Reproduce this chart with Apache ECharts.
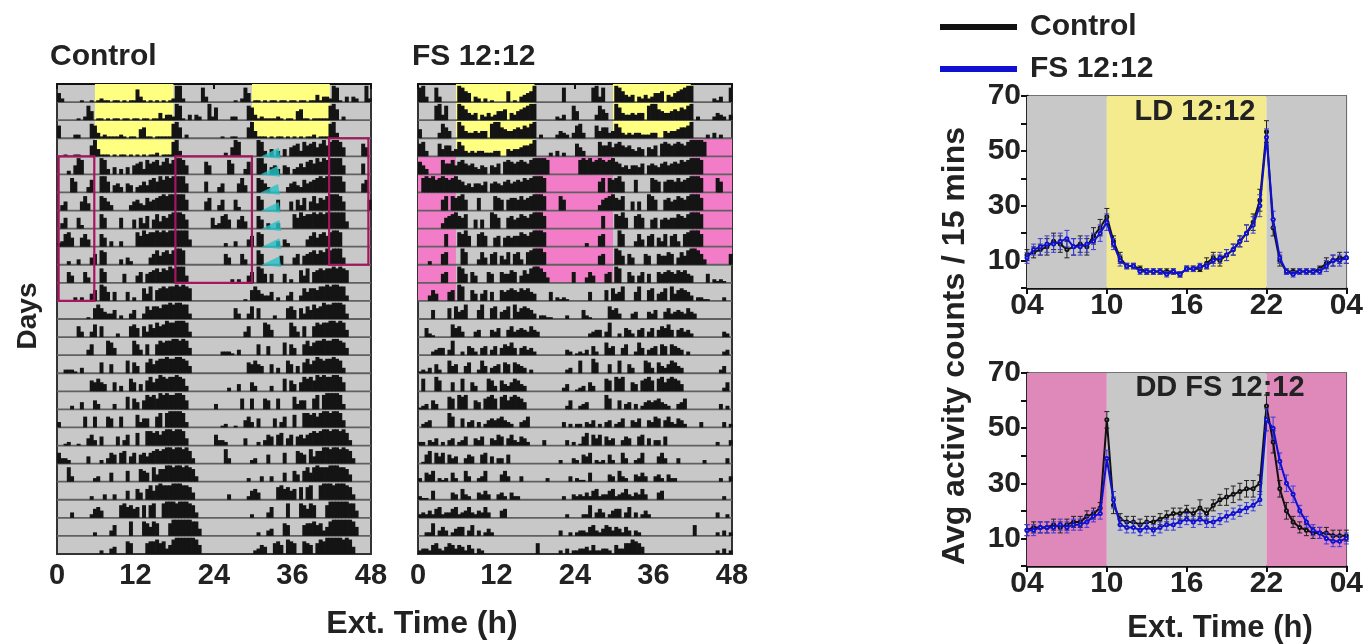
<!DOCTYPE html>
<html><head><meta charset="utf-8">
<script src="https://cdn.jsdelivr.net/npm/echarts@6/dist/echarts.min.js"></script>
<style>html,body{margin:0;padding:0;background:#fff}#c{width:1366px;height:644px}</style>
</head><body><div id="c"></div>
<script>
// ---------- Actogram data: one string per day, 48 half-hour bins, activity level 0-9 ----------
const ctrlDays = [
"520000 010010 121101 101011 731010 101012 992000 008300",
"000000 102850 110101 101101 101101 141332 981030 320092",
"700002 200087 312111 121011 056110 111118 960200 000000",
"001001 100069 411101 011010 101011 201118 930000 000000",
"000205 980000 098304 030405 673867 857968 998500 000750",
"000086 000370 099604 530540 346478 697989 999500 000600",
"035000 058400 087530 000035 643756 789899 999600 000570",
"036000 620000 086000 060005 063705 847689 998500 000006",
"237850 057400 075030 030000 869788 989899 999940 000000",
"000200 300046 087000 030420 000046 857868 998000 000000",
"000640 006300 086000 005000 460567 868798 999400 000000",
"000002 020046 098505 000502 007480 678788 989870 000000",
"000000 000106 864335 020035 003757 768898 998830 000000",
"000000 630037 060000 200067 506375 867988 999830 000000",
"000000 000360 000874 000008 630600 687889 989840 000000",
"002221 030000 060050 000706 400685 788988 998740 000000",
"000000 000065 754005 030075 040685 798788 987300 000000",
"000020 040005 300003 000706 405878 698988 998500 000000",
"300000 006006 000650 060000 735500 680899 998300 000000",
"001200 100463 050000 503600 700887 868998 998400 000000",
"633200 000400 020365 067046 056467 878998 998973 000000",
"000830 000002 300050 000600 076508 477998 998987 300000",
"000000 000020 003003 000500 640685 898889 998874 000000",
"000030 000025 640000 078675 607078 008999 899987 300000",
"000000 000002 000036 000080 008758 700079 999998 840000",
"000000 000000 020034 000760 000677 867358 999999 850000",
"000000 000000 235400 675087 600765 068799 999898 400000"
];
const fsDays = [
"893008 300000 986503 202010 000601 034569 000000 008000",
"000008 938000 986434 032423 556043 567899 000000 213008",
"500000 386400 974334 344089 965445 657689 020000 243203",
"783000 746634 863232 332223 300434 456679 000020 302000",
"753000 086685 786564 354054 607876 787689 999800 000000",
"089897 898789 764535 546056 546756 768789 998000 000000",
"000000 068087 896000 700008 760677 686789 998000 086000",
"000000 036789 768005 050098 600675 687689 997000 000000",
"000000 007000 879600 786005 605656 687689 998000 000000",
"000200 067000 097000 374067 053706 730789 997000 000000",
"000000 056000 985064 000650 065576 047589 986300 000006",
"000364 000560 980064 046050 065676 576754 000050 212100",
"000050 000607 458000 580067 045708 467653 022110 000200",
"005210 000075 630003 400043 500463 454364 300000 000000",
"000023 440380 020542 045035 046574 045342 000000 000320",
"121305 200745 004600 274034 506506 543020 000000 000230",
"070008 600050 070053 000763 064357 643000 000000 002400",
"123053 000760 878005 406786 078578 764000 000000 000250",
"023400 000860 050340 302454 564320 034600 000000 003020",
"220324 020340 235004 350043 650463 254200 003000 000302",
"015706 460534 003540 056040 330500 000000 000000 020003",
"205460 212052 006300 236000 046300 030000 000200 000030",
"211050 000043 063200 435300 342042 200000 000000 002003",
"232425 623356 234632 436300 045000 000000 000000 000200",
"002270 353024 550360 302420 000000 000000 000000 030020",
"233256 324653 542530 320000 000000 000000 600000 020302",
"233425 223320 533668 764000 000000 000000 000000 020302"
];
// light / feeding phases on the actograms: [rowStart, rowEnd, hourStart, hourEnd]
const ctrlYellow = [[0,4,5.8,17.8],[0,3,29.8,41.7]];
const fsYellow   = [[0,4,5.8,17.8],[0,3,29.8,41.7]];
const fsPink     = [[3,10,41.7,48],[4,11,17.8,29.8],[4,12,0,5.8]];
const ctrlBoxes  = [[3,10,41.6,47.6],[4,11,18.1,29.8],[4,12,0.25,5.7]];
const arrowX = [32.6,32.5,32.5,32.6,32.7,32.7,32.7];
const arrowY = [3.92,4.92,5.92,6.92,7.92,8.92,9.92];

// ---------- Average activity profiles ----------
const hours = [4,4.5,5,5.5,6,6.5,7,7.5,8,8.5,9,9.5,10,10.5,11,11.5,12,12.5,13,13.5,14,14.5,15,15.5,16,16.5,17,17.5,18,18.5,19,19.5,20,20.5,21,21.5,22,22.5,23,23.5,24,24.5,25,25.5,26,26.5,27,27.5,28];
const ldControl = [12,13,14,15,17,16,14,15,16,15,19,22,26,17,11,8,8,7,6,6,6,6,6,5,7,7,7,9,11,10,12,14,17,20,24,32,57,22,10,6,6,6,6,6,7,9,10,11,11];
const ldFS      = [11,14,15,16,16,17,18,15,15,16,17,20,24,16,10,8,8,6,6,6,6,5,6,5,7,7,8,8,10,11,12,14,17,20,23,30,55,25,11,6,5,6,6,6,6,8,10,10,11];
const ldControlErr = [2,2,2,3,3,3,3,3,3,3,3,3,3,2,2,1,1,1,1,1,1,1,1,1,1,1,1,2,2,2,2,2,2,3,3,4,4,3,2,1,1,1,1,1,1,2,2,2,2];
const ldFSErr      = [2,2,3,3,3,3,3,3,3,3,3,3,3,2,2,1,1,1,1,1,1,1,1,1,1,1,1,1,2,2,2,2,2,3,3,4,3,3,2,1,1,1,1,1,1,2,2,2,2];
const ddControl = [13,14,14,14,15,14,15,16,16,18,19,21,53,22,17,16,16,15,16,16,17,18,19,19,20,19,21,19,22,24,25,26,27,28,28,30,58,45,28,20,16,14,13,12,12,12,11,11,11];
const ddFS      = [13,13,14,14,14,15,14,15,15,16,18,19,39,24,15,14,14,13,14,13,14,15,15,16,17,16,17,16,16,17,18,19,20,21,22,24,53,50,38,30,26,20,16,13,12,10,9,9,10];
const ddControlErr = [2,2,2,2,2,2,2,2,2,2,2,2,3,3,2,2,2,2,2,2,2,2,2,2,2,2,3,2,2,2,3,3,3,3,3,3,4,4,3,3,2,2,2,2,2,2,2,2,2];
const ddFSErr      = [2,2,2,2,2,2,2,2,2,2,2,2,3,3,2,2,2,2,2,2,2,2,2,2,2,2,2,2,2,2,2,2,2,2,2,2,4,4,3,3,3,2,2,2,2,2,2,2,2];
const ldPhases = [[4,10,'gray'],[10,22,'yellow'],[22,28,'gray']];
const ddPhases = [[4,10,'pink'],[10,22,'gray'],[22,28,'pink']];

// ---------- styling ----------
const FONT = "'Liberation Sans', Arial, sans-serif";
const TXT = '#222';
const BIN = 0.5;
const NROWS = ctrlDays.length - 1;
const BG = {gray:'#c8c8c8', yellow:'#f4ea8e', pink:'#df89bb'};

function dayBars(days){
  const out = [];
  for (let r = 0; r < days.length - 1; r++){
    for (let half = 0; half < 2; half++){
      const s = days[r + half].replace(/ /g, '');
      for (let b = 0; b < s.length; b++){
        const lv = +s[b];
        if (lv > 0) out.push([half * 24 + b * BIN, r, lv]);
      }
    }
  }
  return out;
}
function rectsFrom(list, color){ return list.map(d => [d[2], d[3], d[0], d[1], color]); }

function bgItem(params, api){
  const x0 = api.value(0), x1 = api.value(1), r0 = api.value(2), r1 = api.value(3);
  const p0 = api.coord([x0, r0]), p1 = api.coord([x1, r1]);
  return {type:'rect', shape:{x:Math.min(p0[0],p1[0]), y:Math.min(p0[1],p1[1]), width:Math.abs(p1[0]-p0[0]), height:Math.abs(p1[1]-p0[1])},
          style:{fill: api.value(4)}};
}
function boxItem(params, api){
  const p0 = api.coord([api.value(0), api.value(2)]), p1 = api.coord([api.value(1), api.value(3)]);
  return {type:'rect', shape:{x:p0[0], y:p0[1], width:p1[0]-p0[0], height:p1[1]-p0[1]},
          style:{fill:'none', stroke:'#a8145f', lineWidth:2.2}};
}
function baseItem(params, api){
  const r = api.value(0);
  const a = api.coord([0, r]), b = api.coord([48, r]);
  return {type:'line', shape:{x1:a[0], y1:a[1], x2:b[0], y2:b[1]}, style:{stroke:'#606060', lineWidth:1.8}};
}
function barItem(params, api){
  const x = api.value(0), r = api.value(1), lv = api.value(2);
  const base = api.coord([x, r + 1]);
  const top = api.coord([x + BIN, r + 1 - lv / 9 * 0.9]);
  return {type:'rect', shape:{x:base[0], y:top[1], width:Math.max(1, top[0]-base[0]+0.7), height:base[1]-top[1]},
          style:{fill:'#141414'}};
}
function profBg(params, api){
  const p0 = api.coord([api.value(0), 70]), p1 = api.coord([api.value(1), 0]);
  return {type:'rect', shape:{x:p0[0], y:p0[1], width:p1[0]-p0[0], height:p1[1]-p0[1]}, style:{fill: BG[api.value(2)]}};
}
function errItem(color){
  return function(params, api){
    const x = api.value(0), v = api.value(1), e = api.value(2);
    const lo = api.coord([x, v - e]), hi = api.coord([x, v + e]);
    const cw = 2.5;
    const st = {stroke:color, lineWidth:1};
    return {type:'group', children:[
      {type:'line', shape:{x1:lo[0], y1:lo[1], x2:hi[0], y2:hi[1]}, style:st},
      {type:'line', shape:{x1:hi[0]-cw, y1:hi[1], x2:hi[0]+cw, y2:hi[1]}, style:st},
      {type:'line', shape:{x1:lo[0]-cw, y1:lo[1], x2:lo[0]+cw, y2:lo[1]}, style:st}
    ]};
  };
}
const rowsIdx = []; for (let r = 1; r < NROWS; r++) rowsIdx.push([r]);

function actoXAxis(gi){
  return {gridIndex:gi, type:'value', min:0, max:48, interval:12,
    axisLine:{show:true, lineStyle:{color:'#111', width:2}},
    axisTick:{show:true, length:5, lineStyle:{color:'#111', width:2}},
    axisLabel:{color:TXT, fontFamily:FONT, fontWeight:'bold', fontSize:29, margin:7},
    splitLine:{show:false}};
}
function actoYAxis(gi){
  return {gridIndex:gi, type:'value', min:0, max:NROWS, inverse:true, show:false, splitLine:{show:false}};
}
function profXAxis(gi){
  return {gridIndex:gi, type:'value', min:4, max:28, interval:6,
    axisLine:{show:true, lineStyle:{color:'#111', width:2.5}},
    axisTick:{show:true, length:6, lineStyle:{color:'#111', width:2}},
    axisLabel:{color:TXT, fontFamily:FONT, fontWeight:'bold', fontSize:30, margin:3,
      formatter: v => String(v % 24).padStart(2, '0')},
    splitLine:{show:false}};
}
function profYAxis(gi){
  return {gridIndex:gi, type:'value', min:0, max:70, interval:10,
    axisLine:{show:true, lineStyle:{color:'#111', width:2.5}},
    axisTick:{show:true, length:6, lineStyle:{color:'#111', width:2}},
    axisLabel:{color:TXT, fontFamily:FONT, fontWeight:'bold', fontSize:30, margin:6,
      formatter: v => (v % 20 === 10 ? String(v) : '')},
    splitLine:{show:false}};
}
function toXY(vals){ return hours.map((h, i) => [h, vals[i]]); }
function toErr(vals, errs){ return hours.map((h, i) => [h, vals[i], errs[i]]); }

function txt(x, y, text, size, opts){
  opts = opts || {};
  return {type:'text', x:x, y:y, rotation:opts.rot || 0, z:100,
    style:{text:text, fill:TXT, font:'bold ' + size + 'px ' + FONT,
      textAlign:opts.align || 'center', textVerticalAlign:'middle',
      align:opts.align || 'center', verticalAlign:'middle'}};
}

const BLUE = '#1010d0';
const series = [];
// actogram panels
[[0, ctrlDays, rectsFrom(ctrlYellow, '#ffff80')], [1, fsDays, rectsFrom(fsYellow, '#ffff80').concat(rectsFrom(fsPink, '#f27cc8'))]]
.forEach(([gi, days, bgs]) => {
  series.push({type:'custom', xAxisIndex:gi, yAxisIndex:gi, z:1, renderItem:bgItem, data:bgs, silent:true});
  series.push({type:'custom', xAxisIndex:gi, yAxisIndex:gi, z:2, renderItem:baseItem, data:rowsIdx, silent:true});
  series.push({type:'custom', xAxisIndex:gi, yAxisIndex:gi, z:3, renderItem:barItem, data:dayBars(days), silent:true});
});
series.push({type:'custom', xAxisIndex:0, yAxisIndex:0, z:4, renderItem:boxItem, data:rectsFrom(ctrlBoxes, ''), silent:true});
series.push({type:'scatter', xAxisIndex:0, yAxisIndex:0, z:5, symbol:'triangle', symbolRotate:100, symbolSize:[11,19],
  itemStyle:{color:'#26c2c6'}, data:arrowX.map((x, i) => [x, arrowY[i]]), silent:true});

// profile panels
[[2, ldPhases, ldControl, ldControlErr, ldFS, ldFSErr], [3, ddPhases, ddControl, ddControlErr, ddFS, ddFSErr]]
.forEach(([gi, ph, c, ce, f, fe]) => {
  series.push({type:'custom', xAxisIndex:gi, yAxisIndex:gi, z:1, renderItem:profBg, data:ph, silent:true});
  series.push({type:'custom', name:'errC' + gi, xAxisIndex:gi, yAxisIndex:gi, z:3, renderItem:errItem('#222'), data:toErr(c, ce), silent:true});
  series.push({type:'line', name:'Control', xAxisIndex:gi, yAxisIndex:gi, z:4, data:toXY(c), color:'#111',
    symbol:'emptyCircle', symbolSize:3, lineStyle:{width:2, color:'#111'}, itemStyle:{color:'#111'}});
  series.push({type:'custom', name:'errF' + gi, xAxisIndex:gi, yAxisIndex:gi, z:5, renderItem:errItem('#3a3ae0'), data:toErr(f, fe), silent:true});
  series.push({type:'line', name:'FS 12:12', xAxisIndex:gi, yAxisIndex:gi, z:6, data:toXY(f), color:BLUE,
    symbol:'emptyCircle', symbolSize:3, lineStyle:{width:2, color:BLUE}, itemStyle:{color:BLUE}});
});

const option = {
  animation:false,
  backgroundColor:'#ffffff',
  legend:{data:['Control','FS 12:12'], orient:'vertical', left:935, top:7, icon:'rect',
    itemWidth:77, itemHeight:6, itemGap:12, selectedMode:false,
    textStyle:{color:TXT, fontFamily:FONT, fontWeight:'bold', fontSize:30, lineHeight:30, padding:[0,0,0,8]}},
  grid:[
    {left:57, top:84, width:314, height:470, show:true, backgroundColor:'#c8c8c8', borderColor:'#333', borderWidth:2},
    {left:418, top:84, width:314, height:470, show:true, backgroundColor:'#c8c8c8', borderColor:'#333', borderWidth:2},
    {left:1027, top:96, width:320, height:192, show:true, backgroundColor:'transparent', borderColor:'#444', borderWidth:1.5},
    {left:1027, top:373, width:320, height:193, show:true, backgroundColor:'transparent', borderColor:'#444', borderWidth:1.5}
  ],
  xAxis:[actoXAxis(0), actoXAxis(1), profXAxis(2), profXAxis(3)],
  yAxis:[actoYAxis(0), actoYAxis(1), profYAxis(2), profYAxis(3)],
  series:series,
  graphic:[
    txt(50, 57, 'Control', 30, {align:'left'}),
    txt(412, 57, 'FS 12:12', 30, {align:'left'}),
    txt(28, 316, 'Days', 28, {rot:Math.PI/2}),
    txt(422, 624, 'Ext. Time (h)', 32),
    txt(1220, 628, 'Ext. Time (h)', 31),
    txt(955, 346, 'Avg activity counts / 15 mins', 32, {rot:Math.PI/2}),
    txt(1195, 112, 'LD 12:12', 29),
    txt(1220, 388, 'DD FS 12:12', 29)
  ]
};
const chart = echarts.init(document.getElementById('c'), null, {renderer:'canvas'});
chart.setOption(option);
</script>
</body></html>
